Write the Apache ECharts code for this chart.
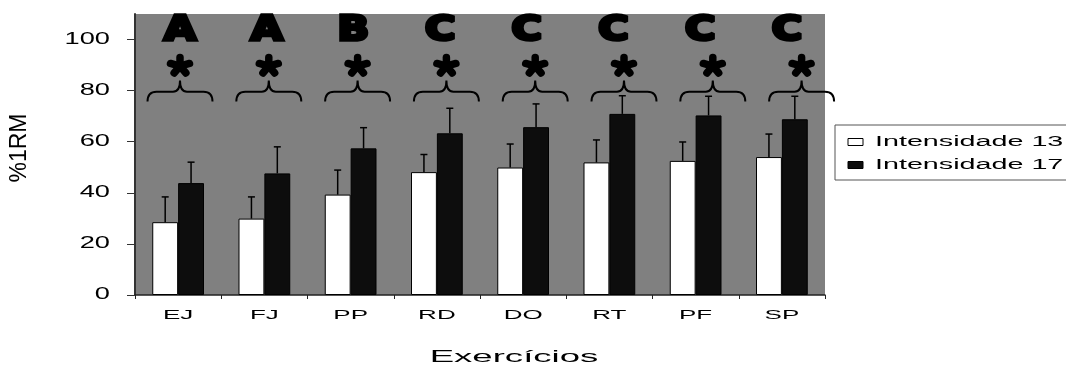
<!DOCTYPE html>
<html><head><meta charset="utf-8">
<script src="https://cdn.jsdelivr.net/npm/echarts@6/dist/echarts.min.js"></script>
<style>html,body{margin:0;padding:0;background:#fff}#c{width:1066px;height:365px}</style>
</head><body><div id="c"></div>
<script>
const categories = ['EJ','FJ','PP','RD','DO','RT','PF','SP'];
const seriesNames = ['Intensidade 13','Intensidade 17'];
const mean13 = [28.5,29.9,39.3,48.1,49.9,51.9,52.5,54.0];
const sd13   = [9.9,8.5,9.6,6.9,9.2,8.8,7.4,9.0];
const mean17 = [43.8,47.6,57.4,63.3,65.7,70.9,70.3,68.8];
const sd17   = [8.2,10.4,8.1,9.8,9.1,7.1,7.5,9.0];
const groupLetters = ['A','A','B','C','C','C','C','C'];
const significance = ['*','*','*','*','*','*','*','*'];
const yTicks = [0,20,40,60,80,100];
const xAxisName = 'Exercícios';
const yAxisName = '%1RM';

const FONT = '"Liberation Sans", Arial, sans-serif';
const chart = echarts.init(document.getElementById('c'), null, {renderer:'canvas'});

// annotation levels (value units on the %1RM scale)
const LV = {letter:103.2, star:89.6, braceTip:84.0, braceMid:79.6, braceEnd:75.7};

function errorBar(side){
  return function(params, api){
    const i = api.value(0), v = api.value(1), sd = api.value(2);
    const band = api.size([1,0])[0];
    const barW = band*0.6/2;
    const base = api.coord([i, v]);
    const top = api.coord([i, v+sd]);
    const x = base[0] + side*barW/2;
    const cap = 3.5;
    const st = {stroke:'#000', lineWidth:1.5};
    return {type:'group', children:[
      {type:'line', shape:{x1:x,y1:base[1],x2:x,y2:top[1]}, style:st},
      {type:'line', shape:{x1:x-cap,y1:top[1],x2:x+cap,y2:top[1]}, style:st}
    ]};
  };
}

function starBrace(params, api){
  const i = api.value(0);
  const band = api.size([1,0])[0];
  const c = api.coord([i, LV.star]);
  const cx = c[0], cy = c[1];
  const children = [];
  const angs = [-90,-18,54,126,198];
  angs.forEach(a=>{
    const r = a*Math.PI/180;
    children.push({type:'line', shape:{x1:cx, y1:cy, x2:cx+10*Math.cos(r), y2:cy+8.5*Math.sin(r)},
      style:{stroke:'#000', lineWidth:7.5, lineCap:'round'}});
  });
  const yt = api.coord([i, LV.braceTip])[1];
  const ym = api.coord([i, LV.braceMid])[1];
  const ye = api.coord([i, LV.braceEnd])[1];
  const w = band*0.366;
  const d = 'M'+(cx-w)+','+ye+' Q'+(cx-w)+','+ym+' '+(cx-w+9)+','+ym+
    ' L'+(cx-7)+','+ym+' Q'+cx+','+ym+' '+cx+','+yt+
    ' Q'+cx+','+ym+' '+(cx+7)+','+ym+
    ' L'+(cx+w-9)+','+ym+' Q'+(cx+w)+','+ym+' '+(cx+w)+','+ye;
  children.push({type:'path', shape:{pathData:d}, style:{fill:null, stroke:'#000', lineWidth:2}});
  return {type:'group', children};
}

function letterItem(params, api){
  const i = api.value(0);
  const p = api.coord([i, LV.letter]);
  return {type:'text', x:p[0], y:p[1], scaleX:1.22,
    style:{text:groupLetters[params.dataIndex], fontFamily:'"DejaVu Sans", sans-serif', fontWeight:'bold',
      fontSize:34, fill:'#000', stroke:'#000', lineWidth:3.5, lineJoin:'round', textAlign:'center', verticalAlign:'middle', textVerticalAlign:'middle'}};
}

function yTickLabel(params, api){
  const v = api.value(1);
  const p = api.coord([0, v]);
  const band = api.size([1,0])[0];
  return {type:'text', x:p[0]-band/2-25, y:p[1], scaleX:1.7,
    style:{text:String(yTicks[params.dataIndex]), fontFamily:FONT, fontSize:16, fill:'#000',
      textAlign:'right', verticalAlign:'middle', textVerticalAlign:'middle'}};
}

function xCatLabel(params, api){
  const i = api.value(0);
  const p = api.coord([i, 0]);
  return {type:'text', x:p[0], y:p[1]+20.5, scaleX:2,
    style:{text:categories[params.dataIndex], fontFamily:FONT, fontSize:13, fill:'#000',
      textAlign:'center', verticalAlign:'middle', textVerticalAlign:'middle'}};
}

const idx = categories.map((c,i)=>i);

const option = {
  animation:false,
  backgroundColor:'#fff',
  grid:[
    {left:135, top:14, width:690, height:281, show:true, backgroundColor:'#808080', borderWidth:0},
    {left:135.6, top:14, width:710.4, height:281, show:false},
    {left:136.65, top:14, width:693.6, height:281, show:false}
  ],
  xAxis:[
    {type:'category', gridIndex:0, data:categories,
      axisLine:{lineStyle:{color:'#222', width:1.5}},
      axisTick:{show:true, length:4, interval:0, lineStyle:{color:'#222'}},
      axisLabel:{show:false}},
    {type:'category', gridIndex:1, data:categories, show:false},
    {type:'category', gridIndex:2, data:categories, show:false}
  ],
  yAxis:[
    {type:'value', gridIndex:0, min:0, max:110, interval:10,
      axisLine:{show:true, lineStyle:{color:'#333', width:2}},
      axisTick:{show:true, length:8, customValues:yTicks, lineStyle:{color:'#333'}},
      axisLabel:{show:false}, splitLine:{show:false}},
    {type:'value', gridIndex:1, min:0, max:110, show:false, splitLine:{show:false}},
    {type:'value', gridIndex:2, min:0, max:110, show:false, splitLine:{show:false}}
  ],
  series:[
    {name:seriesNames[0], type:'bar', data:mean13, barGap:'0%', barCategoryGap:'40%',
      itemStyle:{color:'#fff', borderColor:'#000', borderWidth:1}},
    {name:seriesNames[1], type:'bar', data:mean17, barGap:'0%', barCategoryGap:'40%',
      itemStyle:{color:'#0d0d0d', borderColor:'#000', borderWidth:1}},
    {type:'custom', renderItem:errorBar(-1), data:idx.map(i=>[i, mean13[i], sd13[i]]), encode:{x:0,y:1}, z:5},
    {type:'custom', renderItem:errorBar(1), data:idx.map(i=>[i, mean17[i], sd17[i]]), encode:{x:0,y:1}, z:5},
    {type:'custom', renderItem:yTickLabel, data:yTicks.map(v=>[0, v]), encode:{x:0,y:1}, z:5},
    {type:'custom', renderItem:xCatLabel, data:idx.map(i=>[i, 0]), encode:{x:0,y:1}, z:5},
    {type:'custom', xAxisIndex:1, yAxisIndex:1, renderItem:starBrace, data:idx.map(i=>[i, LV.star, significance[i]]), encode:{x:0,y:1}, z:6},
    {type:'custom', xAxisIndex:2, yAxisIndex:2, renderItem:letterItem, data:idx.map(i=>[i, LV.letter]), encode:{x:0,y:1}, z:6}
  ],
  graphic:[
    {type:'text', x:20, y:148, rotation:Math.PI/2,
      style:{text:yAxisName, fontFamily:FONT, fontSize:23, fill:'#000', textAlign:'center', verticalAlign:'middle'}},
    {type:'text', x:514, y:357.5, scaleX:2.15,
      style:{text:xAxisName, fontFamily:FONT, fontSize:17, fill:'#000', textAlign:'center', verticalAlign:'middle'}},
    {type:'rect', shape:{x:835, y:125, width:240, height:55}, style:{fill:'#fff', stroke:'#555', lineWidth:1}},
    {type:'rect', shape:{x:848, y:138.5, width:15, height:7}, style:{fill:'#fff', stroke:'#000', lineWidth:1}},
    {type:'rect', shape:{x:848, y:161.5, width:15, height:7}, style:{fill:'#0d0d0d', stroke:'#000', lineWidth:1}},
    {type:'text', x:875, y:142.3, scaleX:2.05,
      style:{text:seriesNames[0], fontFamily:FONT, fontSize:14, fill:'#000', textAlign:'left', verticalAlign:'middle'}},
    {type:'text', x:875, y:165.3, scaleX:2.05,
      style:{text:seriesNames[1], fontFamily:FONT, fontSize:14, fill:'#000', textAlign:'left', verticalAlign:'middle'}}
  ]
};
chart.setOption(option);
</script></body></html>
